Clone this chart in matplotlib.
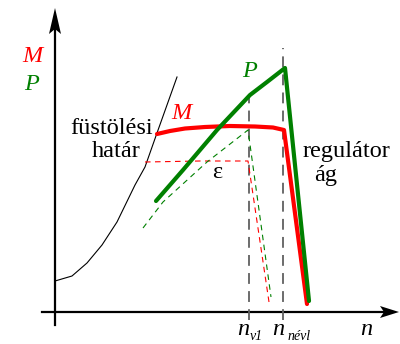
import matplotlib.pyplot as plt
from matplotlib.patches import Polygon

# fordulatszám (n) - nyomaték (M) / teljesítmény (P) jelleggörbék
smoke_n = [0, 17, 32, 47, 62, 80, 90, 102, 122]
smoke_v = [31, 36, 49, 67, 90, 127, 145, 179, 235]

M_n = [102, 115, 130, 150, 175, 200, 218, 229, 252]
M_v = [178, 181, 183.5, 185, 186, 185.5, 184.5, 182, 8]

P_n = [101, 128, 162, 195, 212, 230, 254]
P_v = [111, 142, 182, 217, 230, 244, 11]

Meps_n = [90, 145, 193, 214]
Meps_v = [150, 151, 151, 10]

Peps_n = [88, 108, 152, 193, 216]
Peps_v = [84, 110, 150, 182, 15]

n_v1 = 194
n_nevl = 228
vtop_v1 = 217
vtop_nevl = 264

RED = '#ff0000'
GREEN = '#008000'
serif = 'Liberation Serif'

fig = plt.figure(figsize=(4, 3.44), dpi=100)
ax = fig.add_axes([0, 0, 1, 1])
ax.set_xlim(-55, 345)
ax.set_ylim(-32, 312)
ax.axis('off')

# tengelyek nyíllal
x_end, y_end = 344, 304
ax.plot([-13, x_end - 14], [0, 0], color='black', lw=1.6)
ax.plot([0, 0], [-13, y_end - 20], color='black', lw=1.6)
ax.add_patch(Polygon([[x_end, 0], [x_end - 19, 6], [x_end - 15, 0], [x_end - 19, -6]],
                     closed=True, color='black', lw=0))
ax.add_patch(Polygon([[0, y_end], [6, y_end - 26], [0, y_end - 21], [-6, y_end - 26]],
                     closed=True, color='black', lw=0))

# függőleges szaggatott vonalak
ax.plot([n_v1, n_v1], [-8, vtop_v1], color='#606060', lw=1.3, dashes=(6, 4))
ax.plot([n_nevl, n_nevl], [-8, vtop_nevl], color='#606060', lw=1.3, dashes=(6, 4))

# füstölési határ
ax.plot(smoke_n, smoke_v, color='black', lw=0.8)

# szaggatott görbék
ax.plot(Meps_n, Meps_v, color=RED, lw=0.8, dashes=(5, 4))
ax.plot(Peps_n, Peps_v, color=GREEN, lw=0.8, dashes=(5, 4))

# M és P görbék
ax.plot(M_n, M_v, color=RED, lw=3, solid_capstyle='round', solid_joinstyle='round', zorder=4)
ax.plot(P_n, P_v, color=GREEN, lw=3, solid_capstyle='round', solid_joinstyle='round', zorder=5)

fs = 17.5
ax.text(-23, 250, 'M', color=RED, fontsize=fs, family=serif, style='italic', ha='center', va='baseline')
ax.text(-23, 222, 'P', color=GREEN, fontsize=fs, family=serif, style='italic', ha='center', va='baseline')
ax.text(126, 193, 'M', color=RED, fontsize=fs, family=serif, style='italic', ha='center', va='baseline')
ax.text(195, 235, 'P', color=GREEN, fontsize=fs, family=serif, style='italic', ha='center', va='baseline')
ax.text(98, 178, 'füstölési', fontsize=fs, family=serif, ha='right', va='baseline')
ax.text(86, 155, 'határ', fontsize=fs, family=serif, ha='right', va='baseline')
ax.text(248, 155, 'regulátor', fontsize=fs, family=serif, ha='left', va='baseline')
ax.text(271, 131, 'ág', fontsize=fs, family=serif, ha='center', va='baseline')
ax.text(162, 134, 'ε', fontsize=fs, family=serif, ha='center', va='baseline')

ax.text(n_v1, -23, 'n', fontsize=fs, family=serif, style='italic', ha='right', va='baseline')
ax.text(n_v1 + 1, -28, 'v1', fontsize=10, family=serif, style='italic', ha='left', va='baseline')
ax.text(n_nevl + 1, -23, 'n', fontsize=fs, family=serif, style='italic', ha='right', va='baseline')
ax.text(n_nevl + 4, -28, 'névl', fontsize=10, family=serif, style='italic', ha='left', va='baseline')
ax.text(311, -23, 'n', fontsize=fs, family=serif, style='italic', ha='center', va='baseline')

fig.savefig('out.png', dpi=100)
